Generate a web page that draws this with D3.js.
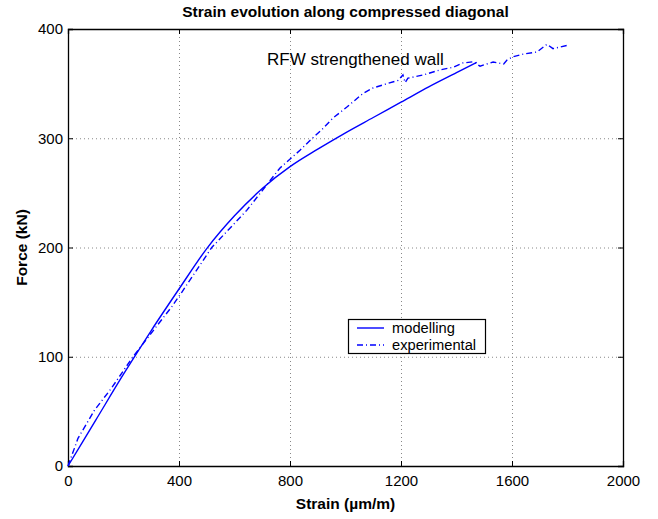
<!DOCTYPE html>
<html><head><meta charset="utf-8">
<script src="https://cdn.jsdelivr.net/npm/d3@7"></script>
<style>body{margin:0;background:#fff;}text{font-family:"Liberation Sans",Arial,sans-serif;}</style>
</head><body><svg id="c" width="658" height="519"></svg>
<script>
const xTicks = [0, 400, 800, 1200, 1600, 2000];
const yTicks = [0, 100, 200, 300, 400];
const modelStrain = [0, 100, 200, 300, 400, 500, 600, 700, 800, 900, 1000, 1100, 1200, 1300, 1400, 1473];
const modelForce  = [0, 42, 84, 124, 162, 199, 229, 254, 274, 290, 305, 319, 333, 347, 360, 369.5];
const expStrain = [0, 36, 96, 156, 234, 374, 410, 518, 644, 764, 836, 872, 919, 955, 1005, 1063, 1099, 1150, 1190, 1207, 1215, 1225, 1280, 1340, 1388, 1423, 1460, 1485, 1532, 1570, 1582, 1604, 1640, 1690, 1726, 1748, 1798];
const expForce  = [0, 25.3, 51.3, 71, 100, 145.8, 159, 200, 234, 272.8, 289, 298, 309, 318.5, 328.6, 341, 346, 350, 353, 358, 351, 355, 357.9, 362.5, 365, 368.9, 370, 366, 369.8, 368, 371.6, 374.6, 377, 379, 386, 382, 385];
const seriesNames = ["modelling", "experimental"];
const title = "Strain evolution along compressed diagonal";
const xLabel = "Strain (\u00b5m/m)";
const yLabel = "Force (kN)";
const note = "RFW strengthened wall";

const svg = d3.select("#c");
const L = 68, R = 623, T = 29, B = 466;
const x = d3.scaleLinear().domain([0, 2000]).range([L, R]);
const y = d3.scaleLinear().domain([0, 400]).range([B, T]);

// grid
const g = svg.append("g");
g.selectAll(".gx").data(xTicks.slice(1, -1)).enter().append("line")
  .attr("x1", d => x(d) + 0.5).attr("x2", d => x(d) + 0.5).attr("y1", T).attr("y2", B)
  .attr("stroke", "#888").attr("stroke-width", 1).attr("stroke-dasharray", "1,3");
g.selectAll(".gy").data(yTicks.slice(1, -1)).enter().append("line")
  .attr("y1", d => y(d) + 0.5).attr("y2", d => y(d) + 0.5).attr("x1", L).attr("x2", R)
  .attr("stroke", "#888").attr("stroke-width", 1).attr("stroke-dasharray", "1,3");

// axes
const ax = svg.append("g").attr("transform", `translate(0,${B})`)
  .call(d3.axisBottom(x).tickValues(xTicks).tickSize(-5).tickPadding(9).tickFormat(d3.format("d")));
const ay = svg.append("g").attr("transform", `translate(${L},0)`)
  .call(d3.axisLeft(y).tickValues(yTicks).tickSize(-5).tickPadding(5).tickFormat(d3.format("d")));
const at = svg.append("g").attr("transform", `translate(0,${T})`)
  .call(d3.axisTop(x).tickValues(xTicks).tickSize(-5).tickFormat(""));
const ar = svg.append("g").attr("transform", `translate(${R},0)`)
  .call(d3.axisRight(y).tickValues(yTicks).tickSize(-5).tickFormat(""));
[ax, ay, at, ar].forEach(a => {
  a.selectAll("path").attr("stroke", "#000").attr("stroke-width", 1.3);
  a.selectAll("line").attr("stroke", "#000").attr("stroke-width", 1);
  a.selectAll("text").attr("font-size", 15).attr("fill", "#000")
   .style("font-family", '"Liberation Sans",Arial,sans-serif');
});

// lines
svg.append("path").datum(modelStrain.map((s, i) => [s, modelForce[i]]))
  .attr("d", d3.line().x(d => x(d[0])).y(d => y(d[1])).curve(d3.curveMonotoneX))
  .attr("fill", "none").attr("stroke", "#0000ff").attr("stroke-width", 1.4);
svg.append("path").datum(expStrain.map((s, i) => [s, expForce[i]]))
  .attr("d", d3.line().x(d => x(d[0])).y(d => y(d[1]))).attr("fill", "none")
  .attr("stroke", "#0000ff").attr("stroke-width", 1.4).attr("stroke-dasharray", "6,3,1,3");

// texts
svg.append("text").attr("x", (L + R) / 2).attr("y", 17).attr("text-anchor", "middle")
  .attr("font-size", 15.5).attr("font-weight", "bold").text(title);
svg.append("text").attr("x", (L + R) / 2).attr("y", 509).attr("text-anchor", "middle")
  .attr("font-size", 15.5).attr("font-weight", "bold").text(xLabel);
svg.append("text").attr("transform", `translate(27,${(T + B) / 2}) rotate(-90)`).attr("text-anchor", "middle")
  .attr("font-size", 15.5).attr("font-weight", "bold").text(yLabel);
svg.append("text").attr("x", 267).attr("y", 65).attr("font-size", 17).text(note);

// legend
const lg = svg.append("g");
lg.append("rect").attr("x", 348.5).attr("y", 319.5).attr("width", 137).attr("height", 34)
  .attr("fill", "#fff").attr("stroke", "#000").attr("stroke-width", 1.2);
seriesNames.forEach((n, i) => {
  const yy = 328 + i * 17;
  lg.append("line").attr("x1", 357).attr("x2", 384).attr("y1", yy).attr("y2", yy)
    .attr("stroke", "#0000ff").attr("stroke-width", 1.4)
    .attr("stroke-dasharray", i ? "6,3,1,3" : null);
  lg.append("text").attr("x", 392).attr("y", yy + 5).attr("font-size", 14.7).text(n);
});
</script></body></html>
